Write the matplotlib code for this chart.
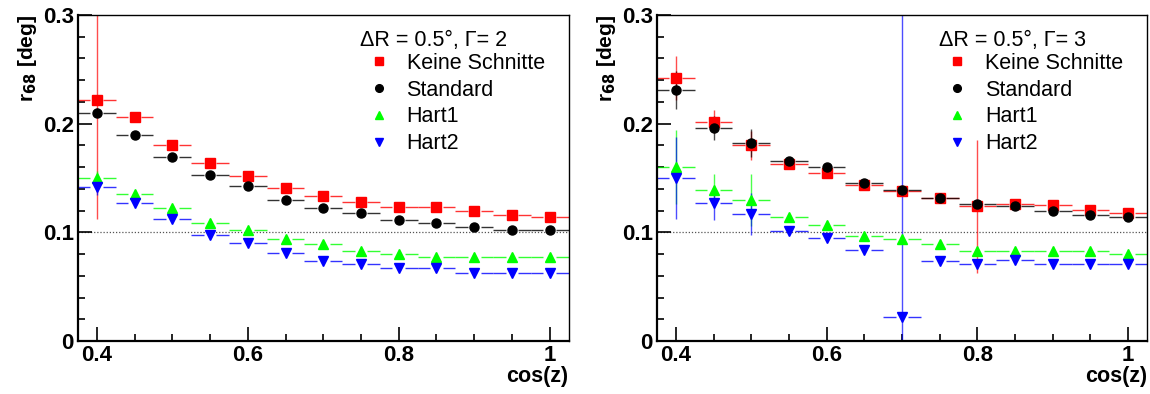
import numpy as np
import matplotlib
matplotlib.use("Agg")
import matplotlib.pyplot as plt
from matplotlib.ticker import MultipleLocator

plt.rcParams['font.family'] = ['Liberation Sans', 'DejaVu Sans']

# bin centres in cos(z), bin width 0.05
cosz = [0.40, 0.45, 0.50, 0.55, 0.60, 0.65, 0.70, 0.75, 0.80, 0.85, 0.90, 0.95, 1.00]
half_width = 0.025

# left panel: Gamma = 2
g2_keine = [0.222, 0.206, 0.180, 0.164, 0.152, 0.141, 0.133, 0.128, 0.123, 0.123, 0.120, 0.116, 0.114]
g2_standard = [0.210, 0.190, 0.169, 0.153, 0.143, 0.130, 0.122, 0.118, 0.111, 0.109, 0.105, 0.102, 0.102]
g2_hart1 = [0.150, 0.135, 0.122, 0.109, 0.102, 0.094, 0.089, 0.083, 0.080, 0.077, 0.077, 0.077, 0.077]
g2_hart2 = [0.142, 0.127, 0.112, 0.098, 0.090, 0.081, 0.074, 0.071, 0.067, 0.067, 0.063, 0.063, 0.063]
g2_keine_err = [0.110, 0.002, 0.002, 0.002, 0.002, 0.002, 0.002, 0.002, 0.002, 0.002, 0.002, 0.002, 0.002]
g2_standard_err = [0.004, 0.002, 0.002, 0.002, 0.002, 0.002, 0.002, 0.002, 0.002, 0.002, 0.002, 0.002, 0.002]
g2_hart1_err = [0.006, 0.003, 0.002, 0.002, 0.002, 0.002, 0.002, 0.002, 0.002, 0.002, 0.002, 0.002, 0.002]
g2_hart2_err = [0.008, 0.003, 0.002, 0.002, 0.002, 0.002, 0.002, 0.002, 0.002, 0.002, 0.002, 0.002, 0.002]

# right panel: Gamma = 3
g3_keine = [0.242, 0.202, 0.180, 0.163, 0.155, 0.144, 0.138, 0.132, 0.124, 0.126, 0.125, 0.121, 0.118]
g3_standard = [0.231, 0.196, 0.182, 0.166, 0.160, 0.145, 0.139, 0.132, 0.126, 0.124, 0.120, 0.116, 0.114]
g3_hart1 = [0.160, 0.139, 0.130, 0.114, 0.107, 0.097, 0.094, 0.089, 0.083, 0.083, 0.083, 0.083, 0.080]
g3_hart2 = [0.150, 0.127, 0.117, 0.101, 0.095, 0.084, 0.022, 0.074, 0.071, 0.075, 0.071, 0.071, 0.071]
g3_keine_err = [0.020, 0.011, 0.013, 0.003, 0.003, 0.002, 0.002, 0.002, 0.061, 0.002, 0.002, 0.002, 0.002]
g3_standard_err = [0.0175, 0.011, 0.013, 0.002, 0.002, 0.002, 0.002, 0.002, 0.002, 0.002, 0.002, 0.002, 0.002]
g3_hart1_err = [0.034, 0.015, 0.024, 0.003, 0.003, 0.002, 0.002, 0.002, 0.002, 0.002, 0.002, 0.002, 0.002]
g3_hart2_err = [0.038, 0.016, 0.019, 0.003, 0.003, 0.002, 0.300, 0.002, 0.002, 0.002, 0.002, 0.002, 0.002]

labels = ["Keine Schnitte", "Standard", "Hart1", "Hart2"]
colors = ["#ff0000", "#000000", "#00ff00", "#0000ff"]
markers = ["s", "o", "^", "v"]
msizes = [6.5, 6.5, 7.5, 7.5]

fig = plt.figure(figsize=(11.5, 3.94), dpi=100)
ax1 = fig.add_axes([0.0678, 0.1345, 0.4266, 0.8274])
ax2 = fig.add_axes([0.5713, 0.1345, 0.4261, 0.8274])

panels = [
    (ax1, [g2_keine, g2_standard, g2_hart1, g2_hart2],
     [g2_keine_err, g2_standard_err, g2_hart1_err, g2_hart2_err], "\u0394R = 0.5\u00b0, \u0393= 2"),
    (ax2, [g3_keine, g3_standard, g3_hart1, g3_hart2],
     [g3_keine_err, g3_standard_err, g3_hart1_err, g3_hart2_err], "\u0394R = 0.5\u00b0, \u0393= 3"),
]

x = np.array(cosz)
gap = 0.0085
for ax, series, errs, header in panels:
    ax.axhline(0.1, color="#555555", lw=0.9, ls=(0, (1, 1.5)), zorder=1)
    for y, e, c, m, ms, lab in zip(series, errs, colors, markers, msizes, labels):
        y = np.array(y)
        # horizontal bin-width bars with a gap around the marker
        ax.hlines(y, x - half_width, x - gap, color=c, lw=1.0, alpha=0.8, zorder=2)
        ax.hlines(y, x + gap, x + half_width, color=c, lw=1.0, alpha=0.8, zorder=2)
        ax.vlines(x, y - np.array(e), y + np.array(e), color=c, lw=1.0, alpha=0.7, zorder=2)
        ax.plot(x, y, ls="none", marker=m, ms=ms, color=c, mec=c, label=lab, zorder=3)

    ax.set_xlim(0.375, 1.025)
    ax.set_ylim(0, 0.3)
    ax.xaxis.set_minor_locator(MultipleLocator(0.05))
    ax.yaxis.set_minor_locator(MultipleLocator(0.02))
    ax.set_xticks([0.4, 0.6, 0.8, 1.0])
    ax.set_xticklabels(["0.4", "0.6", "0.8", "1"])
    ax.set_yticks([0, 0.1, 0.2, 0.3])
    ax.set_yticklabels(["0", "0.1", "0.2", "0.3"])
    ax.tick_params(which="both", direction="in", top=False, right=False,
                   labelsize=16, width=1.2)
    ax.tick_params(which="major", length=10, pad=3)
    ax.tick_params(which="minor", length=5)
    for lb in ax.get_xticklabels() + ax.get_yticklabels():
        lb.set_fontweight("bold")
    for sp in ["left", "bottom"]:
        ax.spines[sp].set_linewidth(1.6)
    for sp in ["top", "right"]:
        ax.spines[sp].set_linewidth(1.0)

    ax.set_xlabel("cos(z)", fontsize=15.5, fontweight="bold", loc="right", labelpad=0)
    ax.set_ylabel("r$_{\\mathbf{68}}$ [deg]", fontsize=15, fontweight="bold", loc="top", labelpad=3)

    ax.text(0.575, 0.921, header, transform=ax.transAxes, ha="left", va="center",
            fontsize=15.5)
    ax.legend(loc="upper left", bbox_to_anchor=(0.56, 0.937), frameon=False,
              fontsize=15.5, handlelength=0.8, handletextpad=0.9, labelspacing=0.27,
              borderpad=0.3, markerscale=0.85)

fig.savefig("out.png", dpi=100)
